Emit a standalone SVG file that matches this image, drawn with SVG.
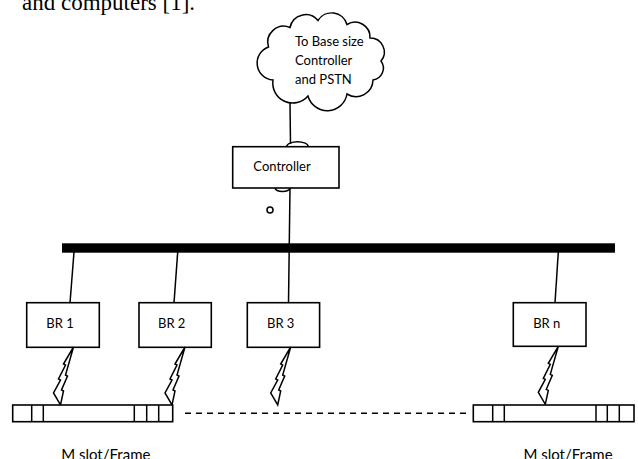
<svg xmlns="http://www.w3.org/2000/svg" width="638" height="459" viewBox="0 0 638 459">
<style>
.box{fill:#fff;stroke:#000;stroke-width:1.6}
.ln{fill:none;stroke:#000;stroke-width:1.5}
.lbl{font-family:Lato,"Open Sans","Liberation Sans",sans-serif;font-size:13px;fill:#000}
.ft{font-family:Lato,"Open Sans","Liberation Sans",sans-serif;font-size:15px;fill:#000}
.bolt{fill:#fff;stroke:#000;stroke-width:1.5;stroke-linejoin:miter}
</style>
<defs>
<path id="boltShape" class="bolt" d="M0,0 L-10,17 L-8,18 L-15,32 L-13,33 L-20,46 L-13,58 L-10,44 L-12,43 L-6,29 L-8,28 Z"/>
</defs>
<rect width="638" height="459" fill="#fff"/>
<text x="22" y="10" font-family="'Liberation Serif',serif" font-size="23" fill="#000">and computers [1].</text>

<g id="cloud">
<path class="ln" d="M268.5,47 A16,16 0 0 1 290,27.5 A16,16 0 0 1 318,20.5 A16,16 0 0 1 347,24.5 A15,15 0 0 1 370,38 A14,14 0 0 1 381,61 A12,12 0 0 1 373,80 A17,17 0 0 1 347,94 A20,20 0 0 1 308,96 A20,20 0 0 1 273,80 A17,17 0 0 1 268.5,47 Z" fill="#fff"/>
<text class="lbl" font-size="12.5" x="295" y="46">To Base size</text>
<text class="lbl" font-size="12.5" x="295" y="65">Controller</text>
<text class="lbl" font-size="12.5" x="295" y="84">and PSTN</text>
</g>

<g id="connectors">
<line class="ln" x1="290" y1="103" x2="290.5" y2="144"/>
<path class="ln" d="M286.7,146.7 A10.8,5 0 0 1 308.3,146.7"/>
<path class="ln" d="M275,188 A7.5,3.5 0 0 0 290,188"/>
<line class="ln" x1="290" y1="188" x2="288.5" y2="303"/>
<line class="ln" x1="74" y1="252" x2="70" y2="303"/>
<line class="ln" x1="177.7" y1="252" x2="174" y2="303"/>
<line class="ln" x1="558.3" y1="252" x2="555" y2="303"/>
<line class="ln" x1="185" y1="413.3" x2="470" y2="413.3" stroke-dasharray="6,5"/>
<circle class="ln" cx="270" cy="210" r="3"/>
</g>

<g id="controller">
<rect class="box" x="232.7" y="146.7" width="106.3" height="41.3"/>
<text class="lbl" x="282" y="170.5" text-anchor="middle">Controller</text>
</g>

<g id="bus">
<rect x="62" y="243.3" width="553" height="9.4" fill="#000"/>
</g>

<g id="br1">
<rect class="box" x="26.7" y="302.7" width="72.6" height="44.6"/>
<text class="lbl" x="60" y="327.5" text-anchor="middle">BR 1</text>
<use href="#boltShape" x="73.5" y="347"/>
</g>
<g id="br2">
<rect class="box" x="139" y="302.7" width="72.3" height="44.6"/>
<text class="lbl" x="171.7" y="327.5" text-anchor="middle">BR 2</text>
<use href="#boltShape" x="185" y="347"/>
</g>
<g id="br3">
<rect class="box" x="247.3" y="302.7" width="72.3" height="44.6"/>
<text class="lbl" x="280.7" y="327.5" text-anchor="middle">BR 3</text>
<use href="#boltShape" x="290.7" y="347"/>
</g>
<g id="brn">
<rect class="box" x="513.3" y="302.7" width="72.7" height="43.6"/>
<text class="lbl" x="546.7" y="327.5" text-anchor="middle">BR n</text>
<use href="#boltShape" x="558.3" y="346.3"/>
</g>

<g id="frame1">
<rect class="box" x="12.7" y="405" width="160" height="16.7"/>
<path class="ln" d="M31.7,405V421.7M43.3,405V421.7M134.3,405V421.7M146.7,405V421.7M158.7,405V421.7"/>
<text class="ft" x="105.8" y="460" text-anchor="middle">M slot/Frame</text>
</g>
<g id="framen">
<rect class="box" x="473.3" y="405" width="160.7" height="16.7"/>
<path class="ln" d="M492.7,405V421.7M504.3,405V421.7M596,405V421.7M607.3,405V421.7M619.3,405V421.7"/>
<text class="ft" x="568" y="460" text-anchor="middle">M slot/Frame</text>
</g>
</svg>
